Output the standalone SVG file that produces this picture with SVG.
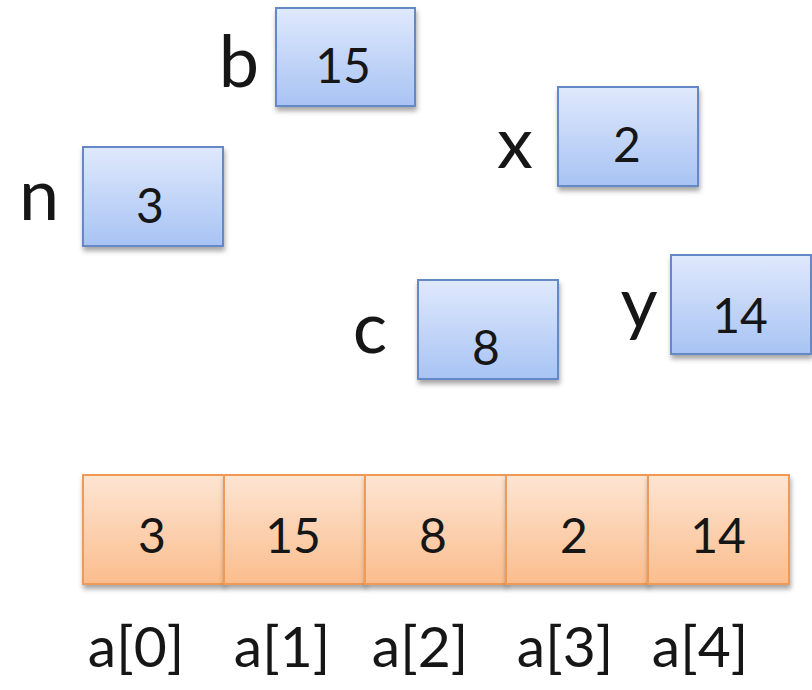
<svg xmlns="http://www.w3.org/2000/svg" width="812" height="690" viewBox="0 0 812 690">
<defs>
<linearGradient id="gb" x1="0" y1="0" x2="0" y2="1">
<stop offset="0" stop-color="#dfe9fc"/>
<stop offset="1" stop-color="#a8c3f4"/>
</linearGradient>
<linearGradient id="go" x1="0" y1="0" x2="0" y2="1">
<stop offset="0" stop-color="#fde5d3"/>
<stop offset="1" stop-color="#fbbd8d"/>
</linearGradient>
<filter id="sh" x="-20%" y="-20%" width="140%" height="150%">
<feDropShadow dx="1" dy="4" stdDeviation="2.5" flood-color="#000" flood-opacity="0.35"/>
</filter>
<style>
.bx{fill:url(#gb);stroke:#6589c6;stroke-width:2;filter:url(#sh)}
.ox{fill:url(#go);stroke:#f09a55;stroke-width:2;filter:url(#sh)}
.v{font-family:Lato,"Liberation Sans",sans-serif;font-size:48px;fill:#161616;text-anchor:middle}
.l{font-family:Lato,"Liberation Sans",sans-serif;font-size:72px;fill:#161616;text-anchor:middle}
.al{font-family:Lato,"Liberation Sans",sans-serif;font-size:57px;fill:#161616;text-anchor:middle}
</style>
</defs>
<rect width="812" height="690" fill="#fff"/>
<g id="var-b">
<text class="l" x="239" y="87">b</text>
<rect class="bx" x="276" y="8" width="139" height="98"/>
<text class="v" x="343" y="83">15</text>
</g>
<g id="var-n">
<text class="l" x="39" y="220">n</text>
<rect class="bx" x="83" y="147" width="140" height="99"/>
<text class="v" x="150" y="223">3</text>
</g>
<g id="var-x">
<text class="l" x="515" y="168">x</text>
<rect class="bx" x="558" y="87" width="140" height="99"/>
<text class="v" x="627" y="162">2</text>
</g>
<g id="var-c">
<text class="l" x="370" y="353">c</text>
<rect class="bx" x="418" y="280" width="140" height="99"/>
<text class="v" x="486" y="365">8</text>
</g>
<g id="var-y">
<text class="l" x="639" y="328">y</text>
<rect class="bx" x="671" y="255" width="140" height="99"/>
<text class="v" x="740" y="333">14</text>
</g>
<g id="a0">
<rect class="ox" x="83" y="475" width="141" height="109"/>
<text class="v" x="152" y="553">3</text>
<text class="al" x="136" y="667">a[0]</text>
</g>
<g id="a1">
<rect class="ox" x="224" y="475" width="141" height="109"/>
<text class="v" x="293" y="553">15</text>
<text class="al" x="282" y="667">a[1]</text>
</g>
<g id="a2">
<rect class="ox" x="365" y="475" width="141" height="109"/>
<text class="v" x="433" y="553">8</text>
<text class="al" x="420" y="667">a[2]</text>
</g>
<g id="a3">
<rect class="ox" x="506" y="475" width="142" height="109"/>
<text class="v" x="574" y="553">2</text>
<text class="al" x="565" y="667">a[3]</text>
</g>
<g id="a4">
<rect class="ox" x="648" y="475" width="141" height="109"/>
<text class="v" x="718" y="553">14</text>
<text class="al" x="700" y="667">a[4]</text>
</g>
<g id="connectors"/>
</svg>
